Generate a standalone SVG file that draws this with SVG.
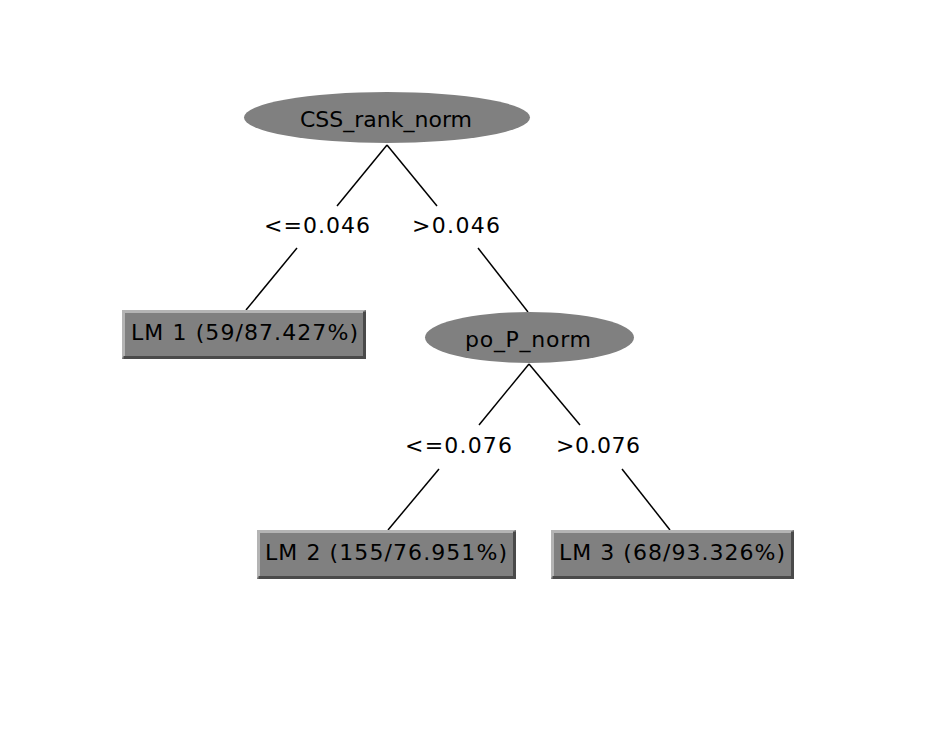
<svg xmlns="http://www.w3.org/2000/svg" width="934" height="742" viewBox="0 0 934 742">
<style>
text{font-family:"DejaVu Sans","Liberation Sans",sans-serif;font-size:22px;fill:#000}
.split ellipse{fill:#808080}
.leaf .fill{fill:#808080}
.leaf .hi{stroke:#b4b4b4;stroke-width:3;fill:none}
.leaf .lo{stroke:#4a4a4a;stroke-width:3;fill:none}
#edges line{stroke:#000;stroke-width:1.5}
</style>
<rect width="934" height="742" fill="#fff"/>
<g id="edges">
<line x1="387" y1="145" x2="337" y2="206"/>
<line x1="387" y1="145" x2="437" y2="206"/>
<line x1="297" y1="248" x2="246" y2="310"/>
<line x1="478" y1="248" x2="528" y2="312"/>
<line x1="529" y1="364" x2="479" y2="425"/>
<line x1="529" y1="364" x2="580" y2="425"/>
<line x1="439" y1="469" x2="388" y2="530"/>
<line x1="622" y1="469" x2="670" y2="530"/>
<text class="lbl" x="264" y="233" textLength="106" lengthAdjust="spacing">&lt;=0.046</text>
<text class="lbl" x="412" y="233" textLength="88" lengthAdjust="spacing">&gt;0.046</text>
<text class="lbl" x="405" y="453" textLength="107" lengthAdjust="spacing">&lt;=0.076</text>
<text class="lbl" x="556" y="453" textLength="84" lengthAdjust="spacing">&gt;0.076</text>
</g>
<g id="n0" class="split">
<ellipse cx="387" cy="117.5" rx="143" ry="25.5"/>
<text x="300" y="127" textLength="172" lengthAdjust="spacing">CSS_rank_norm</text>
</g>
<g id="n1" class="leaf">
<rect class="fill" x="122" y="310" width="244" height="49"/>
<path class="hi" d="M123.5 357.5V311.5H364.5"/>
<path class="lo" d="M123.5 357.5H364.5V311.5"/>
<text x="131" y="340" textLength="227" lengthAdjust="spacing">LM 1 (59/87.427%)</text>
</g>
<g id="n2" class="split">
<ellipse cx="529.5" cy="337.5" rx="104.5" ry="25.5"/>
<text x="465" y="347" textLength="126" lengthAdjust="spacing">po_P_norm</text>
</g>
<g id="n3" class="leaf">
<rect class="fill" x="257" y="530" width="259" height="49"/>
<path class="hi" d="M258.5 577.5V531.5H514.5"/>
<path class="lo" d="M258.5 577.5H514.5V531.5"/>
<text x="265" y="560" textLength="242" lengthAdjust="spacing">LM 2 (155/76.951%)</text>
</g>
<g id="n4" class="leaf">
<rect class="fill" x="551" y="530" width="243" height="49"/>
<path class="hi" d="M552.5 577.5V531.5H792.5"/>
<path class="lo" d="M552.5 577.5H792.5V531.5"/>
<text x="559" y="560" textLength="226" lengthAdjust="spacing">LM 3 (68/93.326%)</text>
</g>
</svg>
